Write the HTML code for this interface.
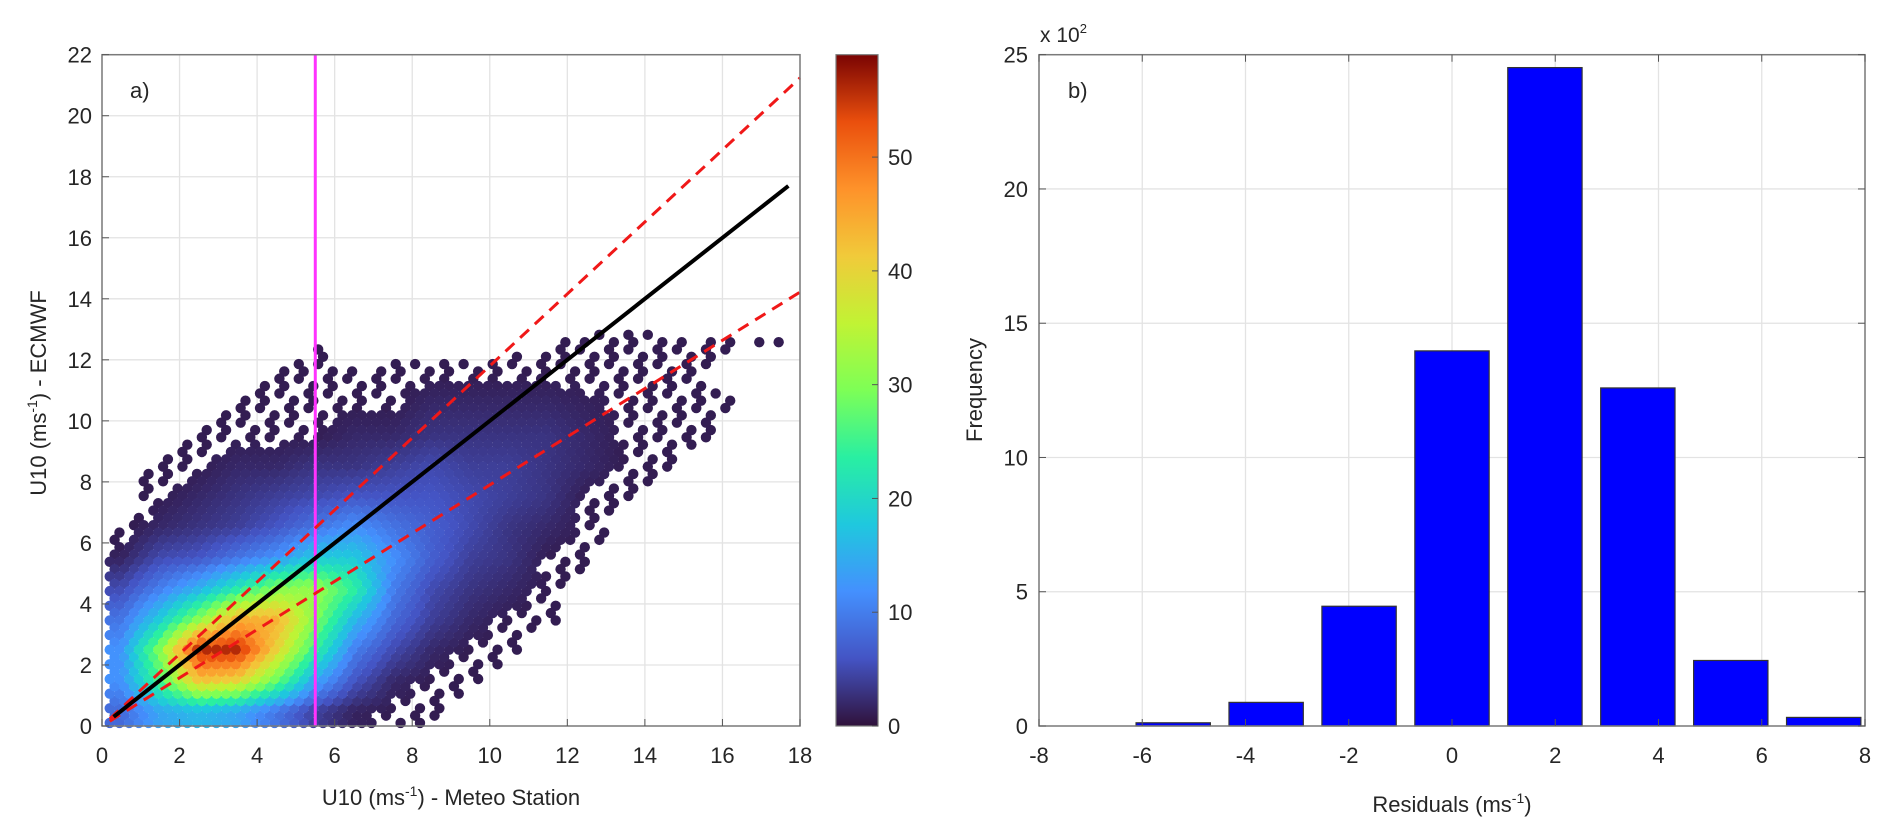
<!DOCTYPE html>
<html><head><meta charset="utf-8">
<style>
html,body{margin:0;padding:0;background:#fff;}
svg{display:block;font-family:"Liberation Sans",Arial,sans-serif;}
text{fill:#262626;}
</style></head>
<body>
<svg id="fig" width="1892" height="833" viewBox="0 0 1892 833" xmlns="http://www.w3.org/2000/svg"></svg>
<script>
// ---------- Panel a data ----------
const xTicksA = [0,2,4,6,8,10,12,14,16,18];
const yTicksA = [0,2,4,6,8,10,12,14,16,18,20,22];
const cbTicks = [0,10,20,30,40,50];
const cbMax = 59;
// density grid: rows = y cells 0..13, cols = x cells 0..17 (counts)
const density = [
 [8,14,16,14,9,4,1.5,1,0.6,0,0,0,0,0,0,0,0,0],
 [12,26,42,40,28,14,6,2,1,0.6,0,0,0,0,0,0,0,0],
 [12,30,56,56,40,24,10,5,2,1,0.6,0,0,0,0,0,0,0],
 [9,18,30,44,44,30,16,8,4,2,1,0.6,0,0,0,0,0,0],
 [5,10,15,22,30,32,24,10,5,3,2,1,0,0,0,0,0,0],
 [1.5,5,6,9,12,18,18,12,7,4,3,1,0.6,0,0,0,0,0],
 [0.6,2,3,4,6,9,12,9,7,5,3,2,1,0,0,0,0,0],
 [0,1,2,3,4,5,6,6,6,5,4,3,1,0.6,0,0,0,0],
 [0,0.6,1,2,2,3,3,4,5,4,4,3,2,1,0.6,0,0,0],
 [0,0,0.8,1,1,1,2,2,3,3,3,3,2,1,0.6,0.6,0,0],
 [0,0,0,0.6,1,1,1,1,2,2,2,2,1.5,1,0.6,0.6,0.5,0],
 [0,0,0,0,0.6,0.6,0.6,0.8,1,1,1,1,1,1,0.6,0.5,0,0],
 [0,0,0,0,0,0.5,0,0,0,0,0,0.6,0.6,0.8,0.6,0.6,0.5,0.5],
 [0,0,0,0,0,0,0,0,0,0,0,0,0,0,0,0,0,0]
];
const fitLine = [0.3, 17.7];      // y = x
const upperSlope = 1.18;
const lowerSlope = 0.79;
const thresholdX = 5.5;
// ---------- Panel b data ----------
const binCenters = [-5.4,-3.6,-1.8,0,1.8,3.6,5.4,7.2];
const binCounts = [0.12,0.88,4.46,13.97,24.52,12.59,2.44,0.32]; // x 10^2
const xTicksB = [-8,-6,-4,-2,0,2,4,6,8];
const yTicksB = [0,5,10,15,20,25];
const barWidth = 1.44;

const NS="http://www.w3.org/2000/svg";
const svg=document.getElementById('fig');
function mk(tag,attrs,parent){const e=document.createElementNS(NS,tag);for(const k in attrs)e.setAttribute(k,attrs[k]);(parent||svg).appendChild(e);return e;}

const A={x0:102,x1:800,y0:726,y1:54.7,xmin:0,xmax:18,ymin:0,ymax:22};
const B={x0:1039,x1:1865,y0:726,y1:54.7,xmin:-8,xmax:8,ymin:0,ymax:25};
const CB={x0:836,x1:878,y0:726,y1:54.7};
const ax=v=>A.x0+(v-A.xmin)/(A.xmax-A.xmin)*(A.x1-A.x0);
const ay=v=>A.y0-(v-A.ymin)/(A.ymax-A.ymin)*(A.y0-A.y1);
const bx=v=>B.x0+(v-B.xmin)/(B.xmax-B.xmin)*(B.x1-B.x0);
const by=v=>B.y0-(v-B.ymin)/(B.ymax-B.ymin)*(B.y0-B.y1);
const cy=v=>CB.y0-v/cbMax*(CB.y0-CB.y1);

const turbo=[[48,18,59],[68,84,196],[68,144,254],[31,200,222],[41,239,162],[125,255,86],[193,243,52],[241,202,58],[254,146,42],[234,79,13],[122,4,3]];
function cmap(t){t=Math.max(0,Math.min(1,t));const p=t*10,i=Math.min(9,Math.floor(p)),f=p-i;const a=turbo[i],b=turbo[i+1];return `rgb(${Math.round(a[0]+(b[0]-a[0])*f)},${Math.round(a[1]+(b[1]-a[1])*f)},${Math.round(a[2]+(b[2]-a[2])*f)})`;}

// ===== Panel A =====
const gA=mk('g',{});


mk('rect',{x:A.x0,y:A.y1,width:A.x1-A.x0,height:A.y0-A.y1,fill:'#fff'},gA);
xTicksA.forEach(v=>{const l=mk('line',{x1:ax(v),x2:ax(v),y1:A.y0,y2:A.y1,stroke:'#e3e3e3','stroke-width':1.3},gA);});
yTicksA.forEach(v=>{const l=mk('line',{x1:A.x0,x2:A.x1,y1:ay(v),y2:ay(v),stroke:'#e3e3e3','stroke-width':1.3},gA);});

function sample(x,y){
  const fx=Math.max(0,Math.min(density[0].length-1,x-0.5)), fy=Math.max(0,Math.min(density.length-1,y-0.5));
  const i=Math.min(density[0].length-2,Math.floor(fx)), j=Math.min(density.length-2,Math.floor(fy));
  const u=fx-i,w=fy-j;
  return density[j][i]*(1-u)*(1-w)+density[j][i+1]*u*(1-w)+density[j+1][i]*(1-u)*w+density[j+1][i+1]*u*w;
}
const dots=mk('g',{},gA);


const pts=[];
for(let r=0,y=0.1;y<14;r++,y+=0.24){
  let c=0;
  for(let x=0.2+(r%2?0.125:0);x<17.9;x+=0.25,c++){
    const v=sample(x,y);
    if(v<0.45)continue;
    if(v<1.3 && ((r*7+c*3)%5)>1)continue; // sparse outer region
    pts.push([x,y,v]);
  }
}
pts.sort((a,b)=>a[2]-b[2]);
pts.forEach(p=>{const c=mk('circle',{cx:ax(p[0]),cy:ay(p[1]),r:5.2,fill:cmap(Math.max(1,p[2])/cbMax)},dots);});

let l;
l=mk('line',{x1:ax(thresholdX),x2:ax(thresholdX),y1:A.y0,y2:A.y1,stroke:'#ff33ff','stroke-width':3},gA);

l=mk('line',{x1:ax(0.2),y1:ay(0.2*upperSlope),x2:ax(18),y2:ay(18*upperSlope),stroke:'#f01818','stroke-width':3,'stroke-dasharray':'12,8'},gA);

l=mk('line',{x1:ax(0.2),y1:ay(0.2*lowerSlope),x2:ax(18),y2:ay(18*lowerSlope),stroke:'#f01818','stroke-width':3,'stroke-dasharray':'12,8'},gA);

l=mk('line',{x1:ax(fitLine[0]),y1:ay(fitLine[0]),x2:ax(fitLine[1]),y2:ay(fitLine[1]),stroke:'#000','stroke-width':4},gA);


mk('rect',{x:A.x0,y:A.y1,width:A.x1-A.x0,height:A.y0-A.y1,fill:'none',stroke:'#7a7a7a','stroke-width':1.5},gA);
xTicksA.forEach(v=>{mk('line',{x1:ax(v),x2:ax(v),y1:A.y0,y2:A.y0-7,stroke:'#555'},gA);const t=mk('text',{x:ax(v),y:763,'text-anchor':'middle','font-size':22},gA);t.textContent=v;});
yTicksA.forEach(v=>{mk('line',{x1:A.x0,x2:A.x0+7,y1:ay(v),y2:ay(v),stroke:'#555'},gA);const t=mk('text',{x:92,y:ay(v)+8,'text-anchor':'end','font-size':22},gA);t.textContent=v;});
</script>
<svg style="position:absolute;left:0;top:0" width="1892" height="833">
  <text x="130" y="98" font-size="22">a)</text>
  <text x="451" y="805" font-size="22" text-anchor="middle">U10 (ms<tspan font-size="14" dy="-9">-1</tspan><tspan dy="9">) - Meteo Station</tspan></text>
  <text transform="translate(46,393) rotate(-90)" font-size="22" text-anchor="middle">U10 (ms<tspan font-size="14" dy="-9">-1</tspan><tspan dy="9">) - ECMWF</tspan></text>
  <text x="1040" y="42" font-size="21">x 10<tspan font-size="13" dy="-9">2</tspan></text>
  <text x="1068" y="98" font-size="22">b)</text>
  <text transform="translate(982,390) rotate(-90)" font-size="22" text-anchor="middle">Frequency</text>
  <text x="1452" y="812" font-size="22" text-anchor="middle">Residuals (ms<tspan font-size="14" dy="-9">-1</tspan><tspan dy="9">)</tspan></text>
</svg>
<script>
// ===== Colorbar =====
const gC=mk('g',{});


const defs=mk('defs',{},gC);
const grad=mk('linearGradient',{id:'cbg',x1:0,y1:1,x2:0,y2:0},defs);
for(let k=0;k<=10;k++)mk('stop',{offset:k/10,'stop-color':cmap(k/10)},grad);
mk('rect',{x:CB.x0,y:CB.y1,width:CB.x1-CB.x0,height:CB.y0-CB.y1,fill:'url(#cbg)',stroke:'#7a7a7a','stroke-width':1.2},gC);
cbTicks.forEach(v=>{mk('line',{x1:CB.x1-6,x2:CB.x1,y1:cy(v),y2:cy(v),stroke:'#555'},gC);const t=mk('text',{x:888,y:cy(v)+8,'font-size':22},gC);t.textContent=v;});

// ===== Panel B =====
const gB=mk('g',{});


xTicksB.forEach(v=>{const g=mk('line',{x1:bx(v),x2:bx(v),y1:B.y0,y2:B.y1,stroke:'#e3e3e3','stroke-width':1.3},gB);});
yTicksB.forEach(v=>{const g=mk('line',{x1:B.x0,x2:B.x1,y1:by(v),y2:by(v),stroke:'#e3e3e3','stroke-width':1.3},gB);});
binCenters.forEach((c,i)=>{
  const x0=bx(c-barWidth/2), x1=Math.min(bx(c+barWidth/2),B.x1);
  const r=mk('rect',{x:x0,y:by(binCounts[i]),width:x1-x0,height:by(0)-by(binCounts[i]),fill:'#0000ff',stroke:'#333','stroke-width':1.2},gB);
  
  
});
mk('rect',{x:B.x0,y:B.y1,width:B.x1-B.x0,height:B.y0-B.y1,fill:'none',stroke:'#7a7a7a','stroke-width':1.5},gB);
xTicksB.forEach(v=>{mk('line',{x1:bx(v),x2:bx(v),y1:B.y0,y2:B.y0-7,stroke:'#555'},gB);mk('line',{x1:bx(v),x2:bx(v),y1:B.y1,y2:B.y1+7,stroke:'#555'},gB);const t=mk('text',{x:bx(v),y:763,'text-anchor':'middle','font-size':22},gB);t.textContent=v;});
yTicksB.forEach(v=>{mk('line',{x1:B.x0,x2:B.x0+7,y1:by(v),y2:by(v),stroke:'#555'},gB);mk('line',{x1:B.x1,x2:B.x1-7,y1:by(v),y2:by(v),stroke:'#555'},gB);const t=mk('text',{x:1028,y:by(v)+8,'text-anchor':'end','font-size':22},gB);t.textContent=v;});
</script>
</body></html>
